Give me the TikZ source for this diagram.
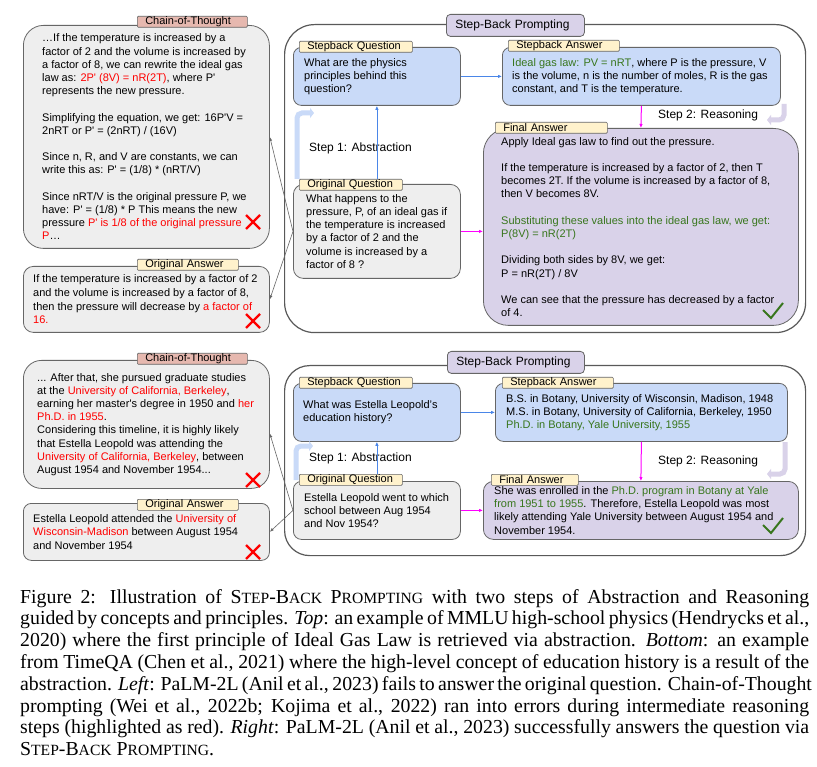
\documentclass[tikz,border=0pt]{standalone}
\usepackage{fontspec}
\setmainfont{Liberation Sans}
\newfontfamily\capserif{Liberation Serif}
\usepackage{xcolor}
\usetikzlibrary{positioning, arrows.meta, calc}

\definecolor{linegray}{HTML}{666666}
\definecolor{framegray}{HTML}{595959}
\definecolor{graybox}{HTML}{EEEEEE}
\definecolor{bluebox}{HTML}{C9DAF8}
\definecolor{purplebox}{HTML}{D9D2E9}
\definecolor{yellowtag}{HTML}{FFF2CC}
\definecolor{pinktag}{HTML}{E6B8AF}
\definecolor{errred}{HTML}{FF0000}
\definecolor{okgreen}{HTML}{38761D}
\definecolor{stepblue}{HTML}{4A86E8}
\definecolor{stepmag}{HTML}{FF00FF}

\newcommand{\errtext}[1]{\textcolor{errred}{#1}}
\newcommand{\oktext}[1]{\textcolor{okgreen}{#1}}
\newcommand{\qs}{\textquotesingle}
\newcommand{\fakesc}[1]{{\fontsize{15.6}{15.6}\selectfont #1}}
\newcommand{\sbp}{S\fakesc{TEP}-B\fakesc{ACK} P\fakesc{ROMPTING}}
\newcommand{\redcross}[1]{\draw[crossline] ($#1+(-7,-7)$) -- ($#1+(7,7)$) ($#1+(-7,7)$) -- ($#1+(7,-7)$);}
\newcommand{\greencheck}[1]{\draw[tickline] ($#1+(-8,-8)$) -- #1 -- ($#1+(12,-15)$);}

\begin{document}
\begin{tikzpicture}[x=1pt, y=-1pt, >=Latex, font=\fontsize{11}{13.2}\selectfont,
  box/.style={draw=linegray, line width=0.8pt, anchor=north west, inner sep=0pt},
  stepframe/.style={draw=framegray, line width=1.2pt, anchor=north west, inner sep=0pt},
  txt/.style={align=left, inner sep=0pt},
  tag/.style={draw=linegray, line width=0.6pt, anchor=north west, inner xsep=8pt, inner ysep=0pt,
    minimum height=11pt, align=left, rounded corners=1pt},
  headtag/.style={draw=linegray, line width=0.8pt, fill=purplebox, anchor=north west, rounded corners=4pt,
    inner xsep=9pt, inner ysep=0pt, minimum height=22pt, align=left, font=\fontsize{12}{14}\selectfont},
  steplbl/.style={anchor=west, inner sep=0pt, font=\fontsize{12}{14}\selectfont},
  link/.style={-{Latex[length=4pt, width=3pt]}, linegray, line width=0.6pt},
  upflow/.style={-{Latex[length=4pt, width=3.5pt]}, stepblue, line width=0.8pt},
  downflow/.style={-{Latex[length=4pt, width=3.5pt]}, stepmag, line width=1pt},
  hint/.style={line width=5pt, rounded corners=5pt, -{Triangle[length=4pt, width=10pt]}},
  crossline/.style={errred, line width=2.4pt},
  tickline/.style={okgreen, line width=2pt}]

  \fill[white] (0,0) rectangle (817,767);
  \useasboundingbox (0,0) rectangle (817,767);

  % top example
  \node[box, fill=graybox, rounded corners=20pt, minimum width=246pt, minimum height=223pt] (cot1) at (23,25) {};
  \node[box, fill=graybox, rounded corners=10pt, minimum width=246pt, minimum height=66pt] (oa1) at (23,266) {};
  \node[stepframe, rounded corners=30pt, minimum width=521pt, minimum height=308pt] (frame1) at (284,24) {};
  \node[box, fill=bluebox, rounded corners=8pt, minimum width=167pt, minimum height=58pt] (sq1) at (293,47) {};
  \node[box, fill=bluebox, rounded corners=8pt, minimum width=278pt, minimum height=58pt] (sa1) at (502,47) {};
  \node[box, fill=graybox, rounded corners=10pt, minimum width=167pt, minimum height=94pt] (oq1) at (293,184) {};
  \node[box, fill=purplebox, rounded corners=25pt, minimum width=315pt, minimum height=197pt] (fa1) at (483,128) {};

  \node[tag, fill=pinktag, text width=94pt] (cot1tag) at (137,16) {Chain-of-Thought};
  \node[tag, fill=yellowtag, text width=85pt] (oa1tag) at (137,259) {Original Answer};
  \node[headtag, text width=120pt] (sbp1) at (446,14) {Step-Back Prompting};
  \node[tag, fill=yellowtag, text width=97pt] (sq1tag) at (299,41) {Stepback Question};
  \node[tag, fill=yellowtag, text width=95pt] (sa1tag) at (508,40) {Stepback Answer};
  \node[tag, fill=yellowtag, text width=87pt] (oq1tag) at (299,179) {Original Question};
  \node[tag, fill=yellowtag, text width=96pt] (fa1tag) at (495,122) {Final Answer};

  \node[txt, right=19pt of cot1.west] (cot1txt) {…If the temperature is increased by a\\
    factor of 2 and the volume is increased by\\
    a factor of 8, we can rewrite the ideal gas\\
    law as: \errtext{2P\qs{} (8V) = nR(2T)}, where P\qs\\
    represents the new pressure.\\[13.2pt]
    Simplifying the equation, we get: 16P\qs{}V =\\
    2nRT or P\qs{} = (2nRT) / (16V)\\[13.2pt]
    Since n, R, and V are constants, we can\\
    write this as: P\qs{} = (1/8) * (nRT/V)\\[13.2pt]
    Since nRT/V is the original pressure P, we\\
    have: P\qs{} = (1/8) * P This means the new\\
    pressure \errtext{P\qs{} is 1/8 of the original pressure}\\
    \errtext{P}…};
  \node[txt, right=10pt of oa1.west, font=\fontsize{11}{13.7}\selectfont] (oa1txt) {If the temperature is increased by a factor of 2\\
    and the volume is increased by a factor of 8,\\
    then the pressure will decrease by \errtext{a factor of}\\
    \errtext{16.}};
  \node[txt, right=11pt of sq1.west] (sq1txt) {What are the physics\\ principles behind this\\ question?};
  \node[txt, right=10pt of sa1.west] (sa1txt) {\oktext{Ideal gas law: PV = nRT}, where P is the pressure, V\\
    is the volume, n is the number of moles, R is the gas\\
    constant, and T is the temperature.};
  \node[txt, right=13pt of oq1.west] (oq1txt) {What happens to the\\ pressure, P, of an ideal gas if\\
    the temperature is increased\\ by a factor of 2 and the\\ volume is increased by a\\ factor of 8 ?};
  \node[txt, right=18pt of fa1.west] (fa1txt) {Apply Ideal gas law to find out the pressure.\\[13.2pt]
    If the temperature is increased by a factor of 2, then T\\
    becomes 2T. If the volume is increased by a factor of 8,\\
    then V becomes 8V.\\[13.2pt]
    \oktext{Substituting these values into the ideal gas law, we get:}\\
    \oktext{P(8V) = nR(2T)}\\[13.2pt]
    Dividing both sides by 8V, we get:\\
    P = nR(2T) / 8V\\[13.2pt]
    We can see that the pressure has decreased by a factor\\
    of 4.};

  \node[steplbl] (abs1) at (309,148) {Step 1: Abstraction};
  \node[steplbl] (rea1) at (658,115) {Step 2: Reasoning};

  \coordinate (h1a) at (297,179); \coordinate (h1b) at (297,113); \coordinate (h1c) at (314,113);
  \coordinate (h2a) at (784,104); \coordinate (h2b) at (784,120); \coordinate (h2c) at (767,120);
  \draw[hint, bluebox] (h1a) -- (h1b) -- (h1c);
  \draw[hint, purplebox] (h2a) -- (h2b) -- (h2c);

  \draw[upflow] (sq1.south |- oq1tag.north) -- (sq1.south);
  \draw[upflow] (sq1.east) -- (sa1.west);
  \draw[downflow] (sa1.south) -- (fa1.north);
  \draw[downflow] (oq1.east) -- (oq1.east -| fa1.west);
  \draw[link] (oq1.west) -- (cot1.east);
  \draw[link] (oq1.west) -- (oa1.east);

  \redcross{(253,222)}
  \redcross{(253,321)}
  \greencheck{(771,318)}

  % bottom example
  \node[box, fill=graybox, rounded corners=18pt, minimum width=246pt, minimum height=128pt] (cot2) at (23,360) {};
  \node[box, fill=graybox, rounded corners=8pt, minimum width=246pt, minimum height=57pt] (oa2) at (23,503) {};
  \node[stepframe, rounded corners=25pt, minimum width=521pt, minimum height=190pt] (frame2) at (284,365) {};
  \node[box, fill=bluebox, rounded corners=8pt, minimum width=167pt, minimum height=58pt] (sq2) at (293,383) {};
  \node[box, fill=bluebox, rounded corners=8pt, minimum width=292pt, minimum height=58pt] (sa2) at (495,383) {};
  \node[box, fill=graybox, rounded corners=8pt, minimum width=167pt, minimum height=58pt] (oq2) at (293,481) {};
  \node[box, fill=purplebox, rounded corners=10pt, minimum width=315pt, minimum height=58pt] (fa2) at (483,481) {};

  \node[tag, fill=pinktag, text width=94pt] (cot2tag) at (137,353) {Chain-of-Thought};
  \node[tag, fill=yellowtag, text width=85pt] (oa2tag) at (137,499) {Original Answer};
  \node[headtag, text width=119pt] (sbp2) at (447,351) {Step-Back Prompting};
  \node[tag, fill=yellowtag, text width=97pt] (sq2tag) at (299,377) {Stepback Question};
  \node[tag, fill=yellowtag, text width=95pt] (sa2tag) at (502,377) {Stepback Answer};
  \node[tag, fill=yellowtag, text width=87pt] (oq2tag) at (299,474) {Original Question};
  \node[tag, fill=yellowtag, text width=71pt] (fa2tag) at (491,474) {Final Answer};

  \node[txt, right=14pt of cot2.west] (cot2txt) {... After that, she pursued graduate studies\\
    at the \errtext{University of California, Berkeley},\\
    earning her master\qs{}s degree in 1950 and \errtext{her}\\
    \errtext{Ph.D. in 1955}.\\
    Considering this timeline, it is highly likely\\
    that Estella Leopold was attending the\\
    \errtext{University of California, Berkeley}, between\\
    August 1954 and November 1954...};
  \node[txt, right=10pt of oa2.west] (oa2txt) {Estella Leopold attended the \errtext{University of}\\
    \errtext{Wisconsin-Madison} between August 1954\\
    and November 1954};
  \node[txt, right=10pt of sq2.west] (sq2txt) {What was Estella Leopold’s\\ education history?};
  \node[txt, right=11pt of sa2.west] (sa2txt) {B.S. in Botany, University of Wisconsin, Madison, 1948\\
    M.S. in Botany, University of California, Berkeley, 1950\\
    \oktext{Ph.D. in Botany, Yale University, 1955}};
  \node[txt, right=11pt of oq2.west] (oq2txt) {Estella Leopold went to which\\ school between Aug 1954\\ and Nov 1954?};
  \node[txt, right=11pt of fa2.west] (fa2txt) {She was enrolled in the \oktext{Ph.D. program in Botany at Yale}\\
    \oktext{from 1951 to 1955}. Therefore, Estella Leopold was most\\
    likely attending Yale University between August 1954 and\\
    November 1954.};

  \node[steplbl] (abs2) at (309,458) {Step 1: Abstraction};
  \node[steplbl] (rea2) at (658,461) {Step 2: Reasoning};

  \coordinate (h3a) at (296,480); \coordinate (h3b) at (296,446); \coordinate (h3c) at (313,446);
  \coordinate (h4a) at (785,442); \coordinate (h4b) at (785,474); \coordinate (h4c) at (767,474);
  \draw[hint, bluebox] (h3a) -- (h3b) -- (h3c);
  \draw[hint, purplebox] (h4a) -- (h4b) -- (h4c);

  \draw[upflow] (sq2.south |- oq2tag.north) -- (sq2.south);
  \draw[upflow] (sq2.east) -- (sa2.west);
  \draw[downflow] (sa2.south) -- (fa2.north);
  \draw[downflow] (oq2.east) -- (oq2.east -| fa2.west);
  \draw[link] (oq2.west) -- ($(cot2.east)+(0,9)$);
  \draw[link] (oq2.west) -- (oa2.east);

  \redcross{(253,480)}
  \redcross{(253,552)}
  \greencheck{(771,533)}

  % caption
  \node[anchor=north west, inner sep=0pt, align=left, font=\capserif\fontsize{19.8}{21.8}\selectfont] (caption) at (20,589) {%
    \hbox to 789pt{Figure 2: Illustration of \sbp{} with two steps of Abstraction and Reasoning}\\
    \hbox to 789pt{guided by concepts and principles. \textit{Top}: an example of MMLU high-school physics (Hendrycks et al.,}\\
    \hbox to 789pt{2020) where the first principle of Ideal Gas Law is retrieved via abstraction. \textit{Bottom}: an example}\\
    \hbox to 789pt{from TimeQA (Chen et al., 2021) where the high-level concept of education history is a result of the}\\
    \hbox to 789pt{abstraction. \textit{Left}: PaLM-2L (Anil et al., 2023) fails to answer the original question. Chain-of-Thought}\\
    \hbox to 789pt{prompting (Wei et al., 2022b; Kojima et al., 2022) ran into errors during intermediate reasoning}\\
    \hbox to 789pt{steps (highlighted as red). \textit{Right}: PaLM-2L (Anil et al., 2023) successfully answers the question via}\\
    \hbox{\sbp.}};
\end{tikzpicture}
\end{document}
